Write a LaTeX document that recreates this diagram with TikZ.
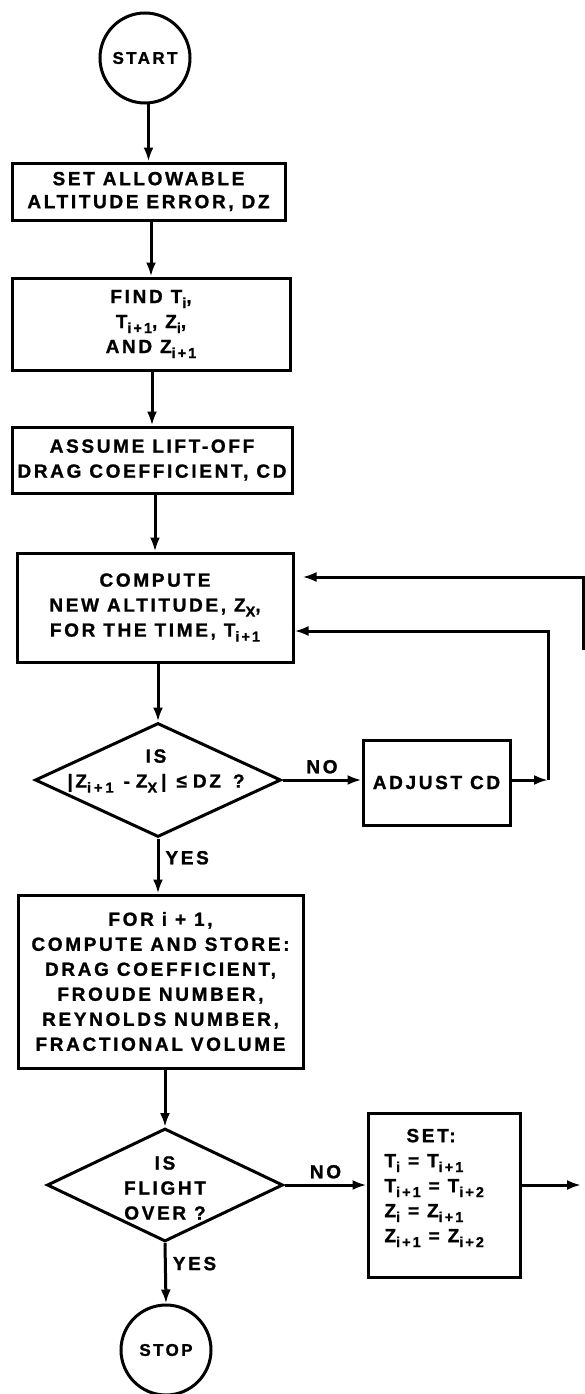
\documentclass[tikz,border=0pt]{standalone}
\usepackage{fontspec}
\setmainfont{Liberation Sans}[LetterSpace=14,BoldFeatures={FakeBold=1.2}]
\usetikzlibrary{arrows.meta,shapes.geometric}
\newcommand\sbs[1]{\raisebox{-0.5ex}{\fontsize{14.5}{14.5}\selectfont #1}}
\begin{document}
\begin{tikzpicture}[x=1pt,y=-1pt,line width=3pt,
  every node/.style={font=\fontsize{19}{25}\selectfont\bfseries,align=center,inner sep=0pt},
  box/.style={draw,rectangle,line width=3pt},
  term/.style={draw,circle,minimum size=90pt,line width=3pt,font=\fontsize{17}{20}\selectfont\bfseries},
  dia/.style={draw,diamond,line width=3pt},
  arr/.style={-{Latex[length=14pt,width=10pt]},line width=3pt},
  lbl/.style={font=\fontsize{19}{20}\selectfont\bfseries}]
\useasboundingbox (0,0) rectangle (585,1394);
\node[term] (start) at (145,58) {START};
\node[box,minimum width=273pt,minimum height=57pt] (b1) at (148.5,191.5) {SET ALLOWABLE\\[-2pt]ALTITUDE ERROR, DZ};
\node[box,minimum width=278pt,minimum height=92pt] (b2) at (151,324) {FIND T\sbs{i},\\T\sbs{i+1}, Z\sbs{i},\\AND Z\sbs{i+1}};
\node[box,minimum width=280pt,minimum height=66pt] (b3) at (152,460) {ASSUME LIFT-OFF\\DRAG COEFFICIENT, CD};
\node[box,minimum width=276pt,minimum height=109pt] (b4) at (155,607.5) {COMPUTE\\NEW ALTITUDE, Z\sbs{X},\\FOR THE TIME, T\sbs{i+1}};
\node[dia,minimum width=246pt,minimum height=114pt] (d1) at (158,780) {};
\node (d1t) at (156,771) {IS\\|Z\sbs{i\hspace{3pt}+\hspace{3pt}1}\hspace{10pt}-\hspace{6pt}Z\sbs{X}\hspace{4pt}|\hspace{10pt}≤\hspace{6pt}DZ\hspace{12pt}?};
\node[box,minimum width=147pt,minimum height=85pt] (adj) at (436.5,782.5) {ADJUST CD};
\node[box,minimum width=285pt,minimum height=173pt] (b5) at (160.5,981.5) {FOR i + 1,\\COMPUTE AND STORE:\\DRAG COEFFICIENT,\\FROUDE NUMBER,\\REYNOLDS NUMBER,\\FRACTIONAL VOLUME};
\node[dia,minimum width=236pt,minimum height=113pt] (d2) at (165,1185) {};
\node (d2t) at (165,1188) {IS\\FLIGHT\\OVER ?};
\node[box,minimum width=152pt,minimum height=164pt] (set) at (444,1195) {};
\node[align=left,anchor=west] (sett) at (383,1188) {\hspace*{22pt}SET:\\T\sbs{i} = T\sbs{i+1}\\T\sbs{i+1} = T\sbs{i+2}\\Z\sbs{i} = Z\sbs{i+1}\\Z\sbs{i+1} = Z\sbs{i+2}};
\node[term] (stop) at (166,1350) {STOP};
\coordinate (c1) at (548,780);
\coordinate (c2) at (548,631);
\coordinate (o1) at (583,650);
\coordinate (o2) at (583,577);
\coordinate (se) at (581,1185);
\draw[arr] (b1.north |- start.south) -- (b1.north);
\draw[arr] (b2.north |- b1.south) -- (b2.north);
\draw[arr] (b3.north |- b2.south) -- (b3.north);
\draw[arr] (b4.north |- b3.south) -- (b4.north);
\draw[arr] (d1.north |- b4.south) -- (d1.north);
\draw[arr] (d1.east) -- node[above=5pt,lbl]{NO} (adj.west |- d1.east);
\draw[arr] (adj.east |- d1.east) -- (c1);
\draw[arr] (c1) -- (c2) -- (b4.east |- c2);
\draw[arr,shorten >=8pt] (o1) -- (o2) -- (b4.east |- o2);
\draw[arr] (d1.south) -- node[right=6pt,pos=0.35,lbl]{YES} (d1.south |- b5.north);
\draw[arr] (d2.north |- b5.south) -- (d2.north);
\draw[arr] (d2.east) -- node[above=5pt,lbl]{NO} (set.west |- d2.east);
\draw[arr] (set.east |- d2.east) -- (se);
\draw[arr] (d2.south) -- node[right=6pt,pos=0.34,lbl]{YES} (stop.north);
\end{tikzpicture}
\end{document}
